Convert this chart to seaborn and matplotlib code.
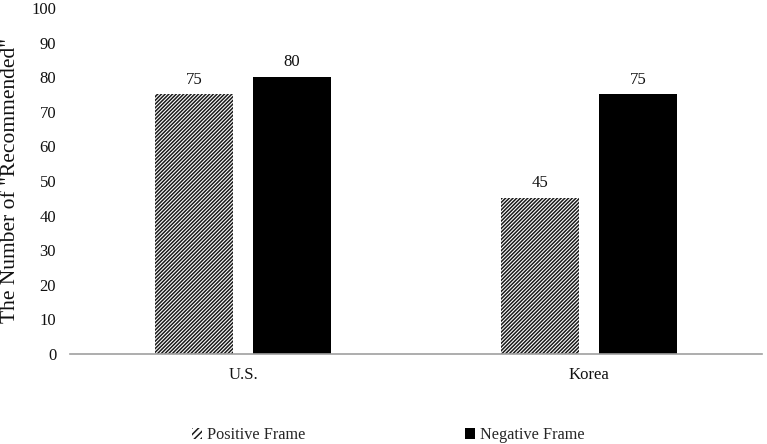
import matplotlib
matplotlib.use("Agg")
import matplotlib.pyplot as plt
import seaborn as sns
import pandas as pd

countries = ["U.S.", "Korea"]
frames = ["Positive Frame", "Negative Frame"]
positive_values = [75, 45]
negative_values = [80, 75]
y_ticks = list(range(0, 101, 10))

df = pd.DataFrame({
    "Country": countries * 2,
    "Frame": [frames[0]] * 2 + [frames[1]] * 2,
    "Value": positive_values + negative_values,
})

sns.set_theme(style="white")
plt.rcParams["font.family"] = ["Liberation Serif", "DejaVu Serif"]
plt.rcParams["hatch.linewidth"] = 1.1

fig = plt.figure(figsize=(7.67, 4.44), dpi=100)
ax = fig.add_axes([0.0913, 0.2027, 0.9022, 0.7793])

sns.barplot(data=df, x="Country", y="Value", hue="Frame", order=countries,
            hue_order=frames, palette=["white", "black"], width=0.565, gap=0.204,
            edgecolor="black", linewidth=0, ax=ax, legend=True)

HATCH = "/" * 9
cont_pos, cont_neg = ax.containers[0], ax.containers[1]
for p in cont_pos:
    p.set_facecolor("white")
    p.set_hatch(HATCH)
    p.set_edgecolor("#1a1a1a")
    p.set_linewidth(0)
for p in cont_neg:
    p.set_facecolor("black")

for c in ax.containers:
    ax.bar_label(c, fmt="%d", padding=5, fontsize=12, color="#111111")

ax.set_ylim(0, 100)
ax.set_xlim(-0.5, 1.5)
ax.set_yticks(y_ticks)
ax.tick_params(axis="both", length=0, labelsize=12, colors="#111111")
ax.tick_params(axis="y", pad=10)
ax.tick_params(axis="x", pad=9)
ax.set_xlabel("")
ax.set_ylabel('The Number of "Recommended"', fontsize=15.5, color="#111111")
ax.yaxis.set_label_coords(-0.073, 0.5)
for s in ["top", "right", "left"]:
    ax.spines[s].set_visible(False)
ax.spines["bottom"].set_color("#a0a0a0")
ax.spines["bottom"].set_linewidth(1.2)
ax.grid(False)

handles, labels = ax.get_legend_handles_labels()
handles[0].set_hatch("/" * 5)
handles[0].set_facecolor("white")
handles[0].set_edgecolor("#1a1a1a")
handles[0].set_linewidth(0)
handles[1].set_facecolor("black")
ax.legend(handles, labels, loc="center", bbox_to_anchor=(0.46, -0.235), ncol=2,
          frameon=False, fontsize=11.7, handlelength=0.65, handleheight=0.65,
          handletextpad=0.3, columnspacing=9.8)

fig.savefig("out.png", dpi=100)
